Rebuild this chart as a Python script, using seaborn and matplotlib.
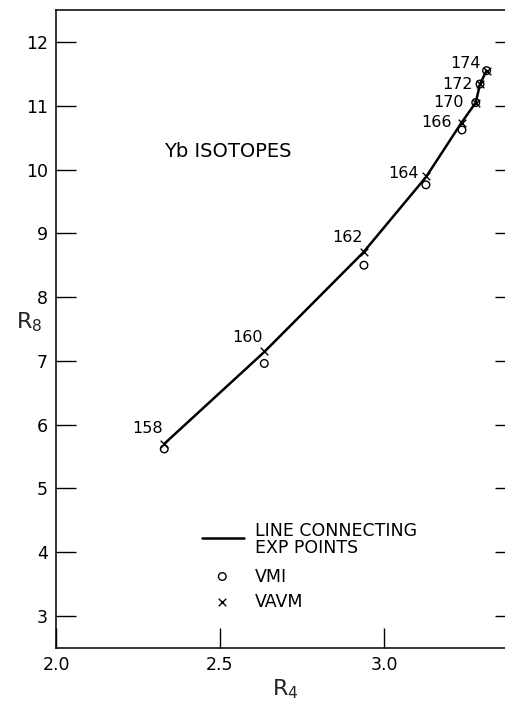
import matplotlib
matplotlib.use("Agg")
import matplotlib.pyplot as plt
import seaborn as sns
import pandas as pd

# Mass numbers of the Yb isotopes
mass = [158, 160, 162, 164, 166, 170, 172, 174]

# Experimental R4 / R8 ratios (solid line)
r4_exp = [2.330, 2.635, 2.937, 3.128, 3.236, 3.280, 3.293, 3.313]
r8_exp = [5.70, 7.14, 8.70, 9.88, 10.73, 11.05, 11.34, 11.55]

# VMI model predictions (open circles)
r4_vmi = [2.330, 2.635, 2.939, 3.128, 3.238, 3.280, 3.293, 3.313]
r8_vmi = [5.62, 6.96, 8.50, 9.76, 10.62, 11.05, 11.34, 11.55]

# VAVM model predictions (crosses)
r4_vavm = [2.330, 2.635, 2.939, 3.128, 3.238, 3.280, 3.293, 3.313]
r8_vavm = [5.70, 7.15, 8.71, 9.90, 10.73, 11.05, 11.34, 11.55]

# Label offsets (points) for each isotope number
label_dx = [-12, -12, -12, -16, -18, -19.5, -16.5, -15]
label_dy = [11, 10, 10, 2, 0, 0, 0, 5]

y_ticks = [3, 4, 5, 6, 7, 8, 9, 10, 11, 12]
x_ticks = [2.0, 2.5, 3.0]
x_tick_labels = ["2.0", "2.5", "3.0"]

exp_df = pd.DataFrame({"R4": r4_exp, "R8": r8_exp})
vmi_df = pd.DataFrame({"R4": r4_vmi, "R8": r8_vmi})
vavm_df = pd.DataFrame({"R4": r4_vavm, "R8": r8_vavm})

sns.set_theme(style="ticks")
plt.rcParams["font.family"] = ["DejaVu Sans"]
plt.rcParams["mathtext.fontset"] = "dejavusans"

fig = plt.figure(figsize=(5.05, 7.06), dpi=100)
ax = fig.add_axes([0.111, 0.0822, 0.909, 0.9036])

sns.lineplot(data=exp_df, x="R4", y="R8", sort=False, color="black",
             linewidth=1.8, ax=ax, zorder=2)
sns.scatterplot(data=vmi_df, x="R4", y="R8", marker="o", s=30,
                facecolors="none", edgecolor="black", linewidth=1.0,
                ax=ax, zorder=3)
sns.scatterplot(data=vavm_df, x="R4", y="R8", marker="x", s=30,
                color="black", linewidth=1.0, ax=ax, zorder=3)

for m, x, y, dx, dy in zip(mass, r4_vavm, r8_vavm, label_dx, label_dy):
    ax.annotate(str(m), (x, y), xytext=(dx, dy), textcoords="offset points",
                ha="center", va="center", fontsize=11.5, color="black")

ax.text(2.33, 10.29, "Yb ISOTOPES", fontsize=14, ha="left", va="center",
        color="black")

# Key
key_fs = 12.5
ax.plot([2.445, 2.573], [4.22, 4.22], color="black", linewidth=1.8)
ax.text(2.607, 4.34, "LINE CONNECTING", fontsize=key_fs, ha="left",
        va="center", color="black")
ax.text(2.607, 4.06, "EXP POINTS", fontsize=key_fs, ha="left", va="center",
        color="black")
ax.scatter([2.507], [3.62], marker="o", s=30, facecolors="none",
           edgecolors="black", linewidths=1.0)
ax.text(2.607, 3.62, "VMI", fontsize=key_fs, ha="left", va="center",
        color="black")
ax.scatter([2.507], [3.22], marker="x", s=30, color="black", linewidths=1.0)
ax.text(2.607, 3.22, "VAVM", fontsize=key_fs, ha="left", va="center",
        color="black")

ax.set_xlim(2.0, 3.4)
ax.set_ylim(2.5, 12.5)
ax.set_xticks(x_ticks)
ax.set_xticklabels(x_tick_labels)
ax.set_yticks(y_ticks)
ax.tick_params(axis="both", direction="in", length=14.5, width=1.0,
               labelsize=12.5, colors="black", pad=6)
ax.tick_params(axis="y", right=True)
ax.tick_params(axis="x", top=False)
for s in ax.spines.values():
    s.set_linewidth(1.1)
    s.set_color("black")

ax.set_xlabel(r"$\mathregular{R_4}$", fontsize=16, labelpad=2)
ax.set_ylabel(r"$\mathregular{R_8}$", fontsize=16, rotation=0,
              va="center", ha="center")
ax.yaxis.set_label_coords(-0.058, 0.51)

fig.savefig("out.png", dpi=100)
